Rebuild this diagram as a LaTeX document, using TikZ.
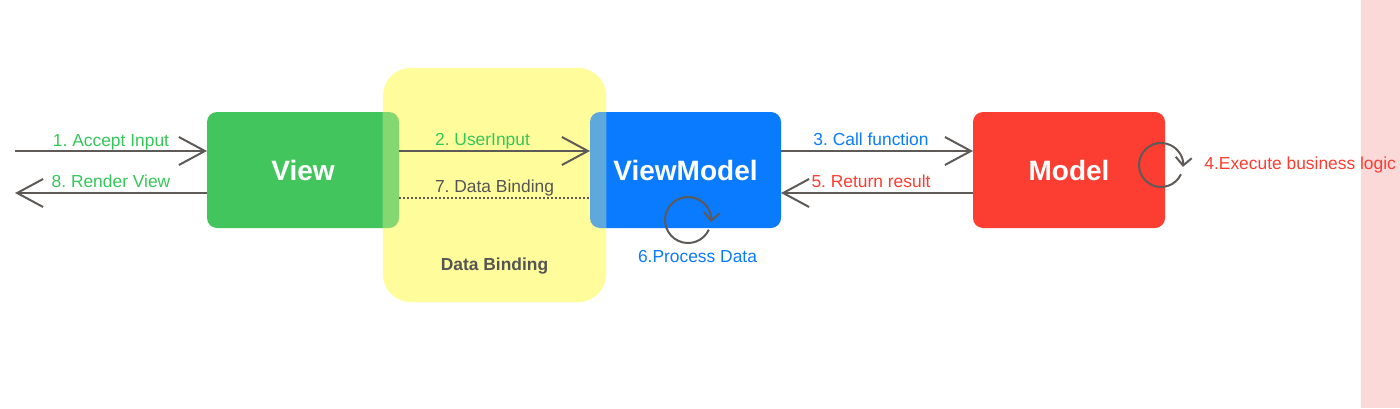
\documentclass[tikz,border=0pt]{standalone}
\usepackage{fontspec}
\setmainfont{Liberation Sans}
\usetikzlibrary{arrows.meta}
\frenchspacing
\definecolor{vgreen}{HTML}{43C55D}\definecolor{vblue}{HTML}{0A7BFF}\definecolor{vred}{HTML}{FC3D32}
\definecolor{vyellow}{HTML}{FFFD9B}\definecolor{vpink}{HTML}{FCD9D9}\definecolor{lgray}{HTML}{5E5A57}
\definecolor{tgreen}{HTML}{34C759}\definecolor{tblue}{HTML}{0A7AFF}\definecolor{tred}{HTML}{FF3B30}\definecolor{tgray}{HTML}{555555}
\begin{document}
\begin{tikzpicture}[x=.5pt,y=.5pt,
box/.style={rounded corners=5pt,minimum width=96pt,minimum height=58pt,inner sep=0pt,outer sep=0pt,text=white,font=\fontsize{14}{16}\selectfont\bfseries},
conn/.style={draw=lgray,line width=1pt},
tip/.style={-{Straight Barb[length=13pt,width=14pt]}},
stip/.style={-{Straight Barb[length=4pt,width=8pt]}},
lbl/.style={font=\fontsize{8.7}{10}\selectfont,inner sep=0pt}]
\useasboundingbox (0,0) rectangle (1400,408);
\fill[vpink] (1361,0) rectangle (1400,408);
\node[fill=vyellow,rounded corners=14pt,minimum width=111.5pt,minimum height=117pt,inner sep=0pt] (bind) at (494.5,223){};
\node[box,fill=vgreen] (view) at (303,238){View};
\node[box,fill=vblue,minimum width=95.5pt] (vm) at (685.5,238){ViewModel};
\node[box,fill=vred] (model) at (1069,238){Model};
\fill[vyellow,fill opacity=.35,rounded corners=14pt] (bind.south west) rectangle (bind.north east);
\node[lbl,font=\fontsize{8.7}{10}\selectfont\bfseries,text=tgray] (bindlbl) at ([yshift=18pt]bind.south){Data Binding};
% rows of the connectors
\coordinate (r1) at (15,257);\coordinate (r2) at (15,215);\coordinate (r3) at (15,210);
\draw[conn,tip] (r1)--(r1-|view.west) node[lbl,text=tgreen,midway,anchor=base,yshift=2.5pt]{1. Accept Input};
\draw[conn,tip] (r2-|view.west)--(r2) node[lbl,text=tgreen,midway,anchor=base,yshift=3pt]{8. Render View};
\draw[conn,tip] (r1-|view.east)--(r1-|vm.west) node[lbl,text=tgreen,midway,anchor=base,yshift=3pt,xshift=-6pt]{2. UserInput};
\draw[conn,densely dotted] (r3-|view.east)--(r3-|vm.west) node[lbl,text=tgray,midway,anchor=base,yshift=3pt]{7. Data Binding};
\draw[conn,tip] (r1-|vm.east)--(r1-|model.west) node[lbl,text=tblue,midway,anchor=base,yshift=3pt,xshift=-3pt]{3. Call function};
\draw[conn,tip] (r2-|model.west)--(r2-|vm.east) node[lbl,text=tred,midway,anchor=base,yshift=3pt,xshift=-3pt]{5. Return result};
% self loops
\coordinate (c6) at ([xshift=1.25pt,yshift=4pt]vm.south);
\draw[conn,stip] ([shift={(335:23)}]c6) arc[start angle=335,end angle=-5,radius=23];
\node[lbl,text=tblue] (p6) at ([xshift=6pt,yshift=-14.5pt]vm.south){6.Process Data};
\coordinate (c4) at ([xshift=-2pt,yshift=2.5pt]model.east);
\draw[conn,stip] ([shift={(335:22)}]c4) arc[start angle=335,end angle=-5,radius=22];
\node[lbl,text=tred,anchor=west] (p4) at ([xshift=19.5pt,yshift=2.5pt]model.east){4.Execute business logic};
\end{tikzpicture}
\end{document}
